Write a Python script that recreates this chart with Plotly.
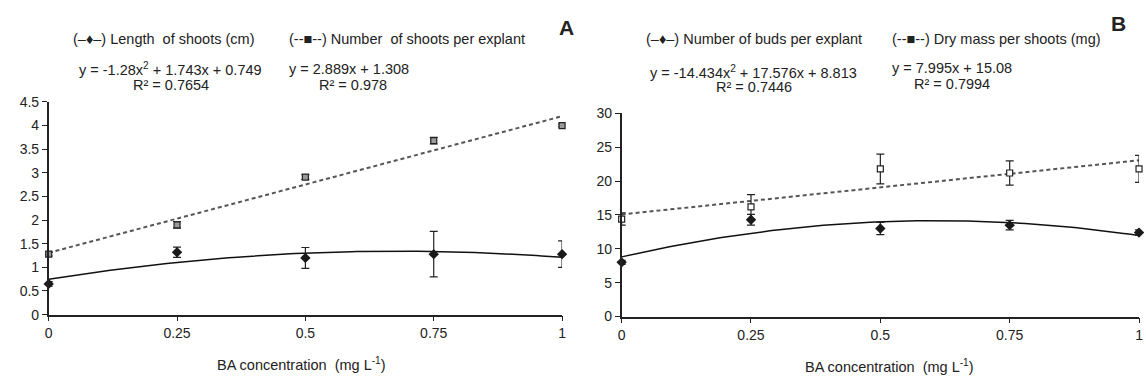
import numpy as np
import plotly.graph_objects as go

# ---- data ----
ba_conc = [0, 0.25, 0.5, 0.75, 1]

length_shoots = [0.65, 1.32, 1.20, 1.28, 1.28]
length_err = [0.05, 0.11, 0.22, 0.48, 0.28]
num_shoots = [1.28, 1.90, 2.91, 3.68, 4.00]
num_shoots_err = [0.04, 0.07, 0.05, 0.07, 0.03]

num_buds = [8.0, 14.3, 13.0, 13.5, 12.4]
num_buds_err = [0.3, 0.8, 0.9, 0.7, 0.4]
dry_mass = [14.4, 16.2, 21.8, 21.2, 21.8]
dry_mass_err = [0.9, 1.8, 2.2, 1.8, 2.0]

# trendline coefficients (highest power first), as printed on the chart
fit_length = [-1.28, 1.743, 0.749]
fit_shoots = [2.889, 1.308]
fit_buds = [-14.434, 17.576, 8.813]
fit_mass = [7.995, 15.08]

x_ticks = [0, 0.25, 0.5, 0.75, 1]
x_tick_text = ["0", "0.25", "0.5", "0.75", "1"]

W, H = 1146, 383
FONT = "Liberation Sans, Arial, sans-serif"
TXT = "#222222"

xs = np.linspace(0, 1, 101)

fig = go.Figure()

def add_panel(xa, ya, y1, e1, y2, e2, f1, f2, sq_fill):
    fig.add_trace(go.Scatter(x=xs, y=np.polyval(f2, xs), mode="lines",
                             line=dict(color="#555555", width=2, dash="4px,3px"),
                             xaxis=xa, yaxis=ya, showlegend=False, hoverinfo="skip",
                             cliponaxis=False))
    fig.add_trace(go.Scatter(x=xs, y=np.polyval(f1, xs), mode="lines",
                             line=dict(color="#111111", width=1.5),
                             xaxis=xa, yaxis=ya, showlegend=False, hoverinfo="skip",
                             cliponaxis=False))
    fig.add_trace(go.Scatter(x=ba_conc, y=y2, mode="markers",
                             marker=dict(symbol="square", size=6, color=sq_fill,
                                         line=dict(color="#222222", width=1.2)),
                             error_y=dict(type="data", array=e2, color="#222222",
                                          thickness=1.2, width=4),
                             xaxis=xa, yaxis=ya, showlegend=False, cliponaxis=False))
    fig.add_trace(go.Scatter(x=ba_conc, y=y1, mode="markers",
                             marker=dict(symbol="diamond", size=8, color="#1a1a1a"),
                             error_y=dict(type="data", array=e1, color="#222222",
                                          thickness=1.2, width=4),
                             xaxis=xa, yaxis=ya, showlegend=False, cliponaxis=False))

add_panel("x", "y", length_shoots, length_err, num_shoots, num_shoots_err,
          fit_length, fit_shoots, "#9a9a9a")
add_panel("x2", "y2", num_buds, num_buds_err, dry_mass, dry_mass_err,
          fit_buds, fit_mass, "white")

axis_common = dict(showgrid=False, zeroline=False, showline=True, linecolor="#222222",
                   linewidth=1.5, ticks="outside", ticklen=5, tickwidth=1.2,
                   tickcolor="#222222", tickfont=dict(family=FONT, size=14, color=TXT))

fig.update_layout(
    width=W, height=H, margin=dict(l=0, r=0, t=0, b=0),
    paper_bgcolor="white", plot_bgcolor="white",
    font=dict(family=FONT, color=TXT),
    xaxis=dict(domain=[45 / W, 562 / W], range=[0, 1], tickvals=x_ticks,
               ticktext=x_tick_text, anchor="y", **axis_common),
    yaxis=dict(domain=[1 - 320 / H, 1 - 98 / H], range=[0, 4.5], dtick=0.5,
               anchor="x", **axis_common),
    xaxis2=dict(domain=[622 / W, 1143 / W], range=[0, 1], tickvals=x_ticks,
                ticktext=x_tick_text, anchor="y2", **axis_common),
    yaxis2=dict(domain=[1 - 322 / H, 1 - 110 / H], range=[0, 30], dtick=5,
                anchor="x2", **axis_common),
)

def ann(text, x, y, size=14.5, xanchor="center", bold=False):
    fig.add_annotation(text=f"<b>{text}</b>" if bold else text,
                       x=x / W, y=1 - y / H, xref="paper", yref="paper",
                       xanchor=xanchor, yanchor="middle", showarrow=False,
                       font=dict(family=FONT, size=size, color=TXT))

# Panel A texts
ann("(–♦–) Length  of shoots (cm)", 67, 32, xanchor="left")
ann("(--■--) Number  of shoots per explant", 285, 32, xanchor="left")
ann("A", 566, 20, size=21, bold=True)
ann("y = -1.28x<sup>2</sup> + 1.743x + 0.749", 74, 64, xanchor="left")
ann("R² = 0.7654", 168, 80)
ann("y = 2.889x + 1.308", 285, 64, xanchor="left")
ann("R² = 0.978", 351, 80)
ann("BA concentration  (mg L<sup>-1</sup>)", 300, 371)

# Panel B texts
ann("(–♦–) Number of buds per explant", 645, 32, xanchor="left")
ann("(--■--) Dry mass per shoots (mg)", 892, 32, xanchor="left")
ann("B", 1122, 16, size=21, bold=True)
ann("y = -14.434x<sup>2</sup> + 17.576x + 8.813", 649, 67, xanchor="left")
ann("R² = 0.7446", 755, 82)
ann("y = 7.995x + 15.08", 892, 63, xanchor="left")
ann("R² = 0.7994", 955, 79)
ann("BA concentration  (mg L<sup>-1</sup>)", 892, 374)

post = ("document.documentElement.style.margin='0';document.documentElement.style.padding='0';"
        "document.documentElement.style.overflow='hidden';"
        "document.body.style.margin='0';document.body.style.padding='0';"
        "document.body.style.overflow='hidden';"
        "var d=document.getElementById('{plot_id}');"
        "d.style.position='fixed';d.style.top='0px';d.style.left='0px';")

fig.write_html("out.html", config={"displayModeBar": False}, post_script=post)
